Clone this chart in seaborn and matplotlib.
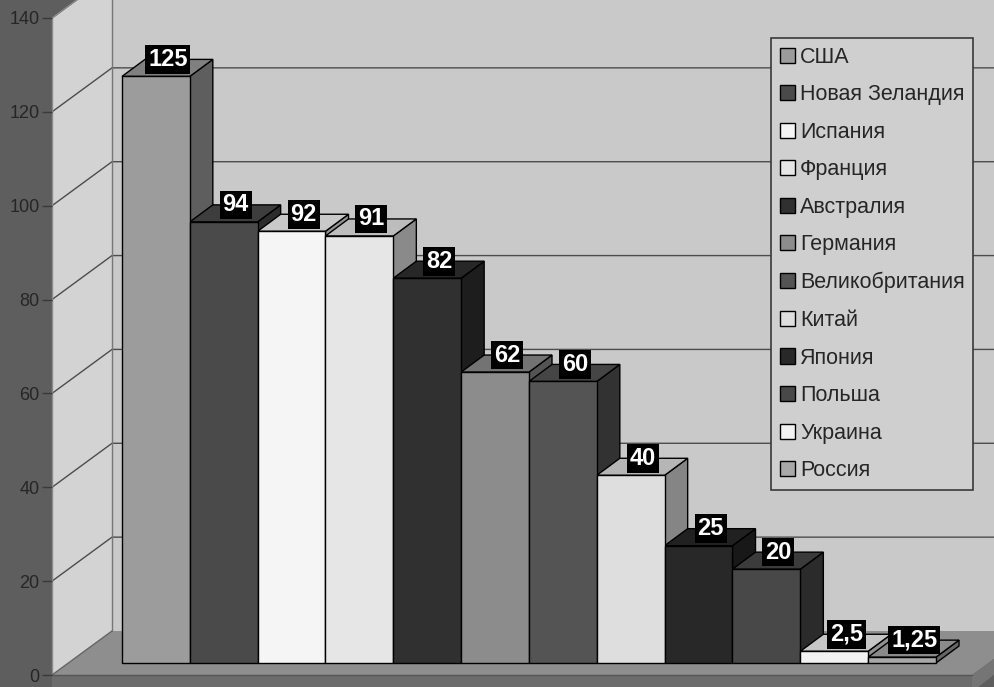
import numpy as np
import pandas as pd
import matplotlib
matplotlib.use("Agg")
import matplotlib.pyplot as plt
import seaborn as sns
from matplotlib.patches import Polygon
from matplotlib.lines import Line2D
from matplotlib.colors import to_rgb

# ---------------- data ----------------
countries = ["США", "Новая Зеландия", "Испания", "Франция", "Австралия", "Германия",
             "Великобритания", "Китай", "Япония", "Польша", "Украина", "Россия"]
values = [125, 94, 92, 91, 82, 62, 60, 40, 25, 20, 2.5, 1.25]
shades = ["#9c9c9c", "#4a4a4a", "#f5f5f5", "#e6e6e6", "#303030", "#8c8c8c",
          "#545454", "#dedede", "#282828", "#484848", "#f2f2f2", "#a8a8a8"]
yticks = [0, 20, 40, 60, 80, 100, 120, 140]

df = pd.DataFrame({"country": countries, "value": values})
palette = dict(zip(countries, shades))

sns.set_theme(style="white")
plt.rcParams["font.family"] = ["Liberation Sans", "DejaVu Sans"]

W, H = 995, 687
fig = plt.figure(figsize=(W / 100, H / 100), dpi=100)
fig.patch.set_facecolor("#5e5e5e")


def F(x, y):
    return (x / W, 1 - y / H)


# ---------------- geometry (pixels) ----------------
XF, XB = 52, 112          # front / back x of left wall
Y0 = 675                  # front y of value 0
S = 657 / 140             # pixels per unit
DX, DY = 60, 44           # wall depth offset

ax = fig.add_axes([XF / W, (H - Y0) / H, (W - XF) / W, 657 / H])
ax.set_ylim(0, 140)
ax.set_xlim(0, 1)
ax.set_facecolor("none")
for s in ax.spines.values():
    s.set_visible(False)
ax.set_xticks([])
ax.set_yticks(yticks)
ax.set_yticklabels([str(t) for t in yticks])
ax.tick_params(axis="y", length=7, width=1, color="#3a3a3a", labelsize=13,
               labelcolor="#262626", pad=2, left=True)

tf = fig.transFigure


def poly(pts, fc, ec="none", lw=0.0, z=0):
    ax.add_patch(Polygon([F(*p) for p in pts], closed=True, transform=tf,
                         facecolor=fc, edgecolor=ec, linewidth=lw,
                         clip_on=False, zorder=z))


def line(pts, color="#4a4a4a", lw=1.0, z=1):
    xs, ys = zip(*[F(*p) for p in pts])
    ax.add_line(Line2D(xs, ys, transform=tf, color=color, linewidth=lw,
                       clip_on=False, zorder=z))


top_front = Y0 - 140 * S
# back wall
poly([(XB, -60), (W + 80, -60), (W + 80, Y0 - DY), (XB, Y0 - DY)], "#c9c9c9", z=0)
# left wall
poly([(XF, top_front), (XB, top_front - DY), (XB, Y0 - DY), (XF, Y0)], "#d3d3d3", z=0.1)
# floor top
poly([(XF, Y0), (XB, Y0 - DY), (972 + DX, Y0 - DY), (972, Y0)], "#8e8e8e", z=0.2)
# floor front band and right side
poly([(XF, Y0), (972, Y0), (972, H + 5), (XF, H + 5)], "#6c6c6c", z=0.2)
poly([(972, Y0), (972 + DX, Y0 - DY), (972 + DX, Y0 - DY + 14), (972, H + 5)], "#757575", z=0.2)

# gridlines: front slant on the left wall, horizontal on back wall
for v in yticks[1:]:
    yf = Y0 - v * S
    line([(XF, yf), (XB, yf - DY), (W + 5, yf - DY)], color="#4c4c4c", lw=1.0, z=0.5)
# wall edges
line([(XB, -10), (XB, Y0 - DY)], color="#777777", lw=1.0, z=0.5)
line([(XF, top_front), (XF, Y0)], color="#8a8a8a", lw=1.0, z=0.5)
line([(XF, top_front), (XB, top_front - DY)], color="#8a8a8a", lw=1.0, z=0.5)
line([(XF, Y0), (XB, Y0 - DY)], color="#666666", lw=1.0, z=0.5)
line([(XF, Y0), (972, Y0)], color="#555555", lw=1.0, z=0.5)

# ---------------- bars ----------------
BX0, BX1, BY0 = 122, 936, 663
ax2 = fig.add_axes([BX0 / W, (H - BY0) / H, (BX1 - BX0) / W, 657 / H])
sns.barplot(data=df, x="country", y="value", hue="country", order=countries,
            hue_order=countries, palette=palette, width=1.0, saturation=1,
            edgecolor="black", linewidth=1.0, ax=ax2, legend=True, zorder=3)
ax2.set_xlim(-0.5, len(countries) - 0.5)
ax2.set_ylim(0, 140)
ax2.set_axis_off()

px_per_x = (BX1 - BX0) / len(countries)
dxd = 23 / px_per_x
dyd = 17 / S


def shade(c, f):
    r, g, b = to_rgb(c)
    return (r * f, g * f, b * f)


bars = sorted([p for p in ax2.patches if p.get_width() > 0 and p.get_height() > 0],
              key=lambda p: p.get_x())
for p, c, v in zip(bars, shades, values):
    x0, w, h = p.get_x(), p.get_width(), p.get_height()
    side = Polygon([(x0 + w, 0), (x0 + w + dxd, dyd), (x0 + w + dxd, h + dyd), (x0 + w, h)],
                   closed=True, facecolor=shade(c, 0.6), edgecolor="black",
                   linewidth=1.0, clip_on=False, zorder=1)
    top = Polygon([(x0, h), (x0 + w, h), (x0 + w + dxd, h + dyd), (x0 + dxd, h + dyd)],
                  closed=True, facecolor=shade(c, 0.82), edgecolor="black",
                  linewidth=1.0, clip_on=False, zorder=2)
    ax2.add_patch(side)
    ax2.add_patch(top)
    p.set_clip_on(False)
    lab = f"{v:g}".replace(".", ",")
    ax2.annotate(lab, (x0 + w / 2, h), xytext=(12 * 0.72, 17 * 0.72),
                 textcoords="offset points", ha="center", va="center",
                 color="white", fontsize=17, fontweight="bold",
                 bbox=dict(boxstyle="square,pad=0.12", fc="black", ec="none"),
                 zorder=6, annotation_clip=False)

sns.move_legend(ax2, "upper left", bbox_to_anchor=(771 / W, 1 - 38 / H),
                bbox_transform=fig.transFigure, title=None, frameon=True,
                fontsize=15.5, handlelength=0.7, handleheight=0.7,
                handletextpad=0.25, labelspacing=0.77, borderpad=0.4,
                borderaxespad=0, facecolor="#cfcfcf", edgecolor="#3a3a3a",
                framealpha=1, fancybox=False)
leg = ax2.get_legend()
leg.get_frame().set_linewidth(1.2)
for hnd in leg.legend_handles:
    hnd.set_edgecolor("black")
    hnd.set_linewidth(1.0)

fig.savefig("out.png", dpi=100)
